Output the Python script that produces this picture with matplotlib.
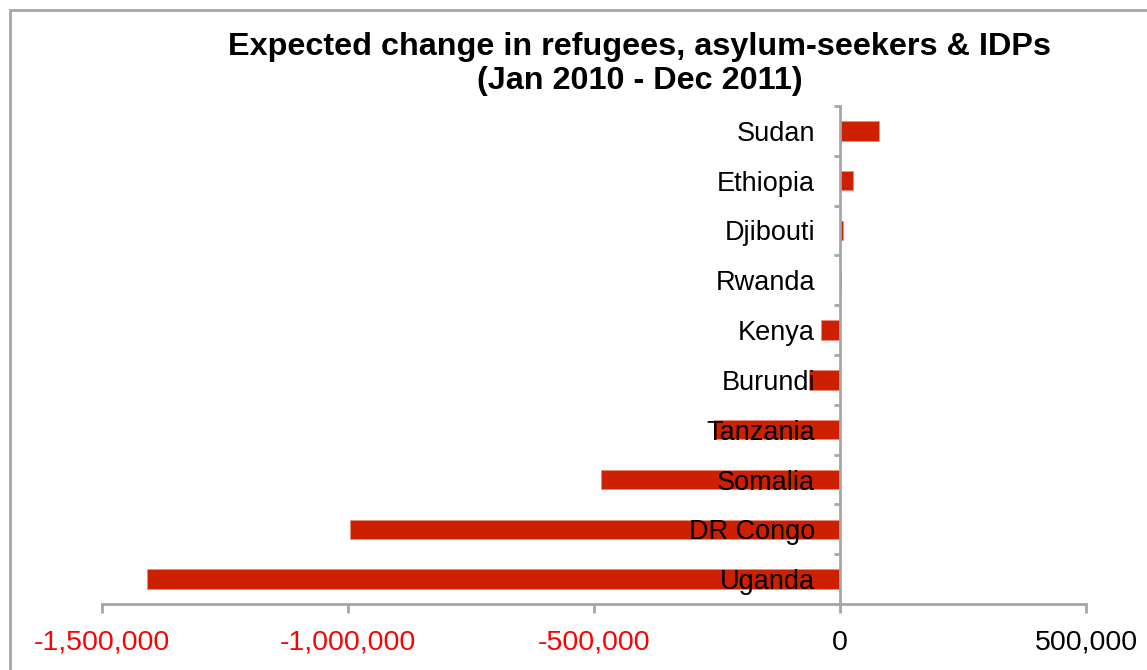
import matplotlib
matplotlib.use('Agg')
import matplotlib.pyplot as plt
from matplotlib.patches import Rectangle
from matplotlib.ticker import FixedLocator, FuncFormatter

countries = ['Uganda', 'DR Congo', 'Somalia', 'Tanzania', 'Burundi',
             'Kenya', 'Rwanda', 'Djibouti', 'Ethiopia', 'Sudan']
change = [-1409000, -996000, -486000, -257000, -63000,
          -39000, 2500, 6000, 27000, 79000]
xticks = [-1500000, -1000000, -500000, 0, 500000]

plt.rcParams['font.family'] = ['Liberation Sans', 'DejaVu Sans']
plt.rcParams['axes.unicode_minus'] = False

grey = '#a6a6a6'
bar_red = '#cc2000'

fig = plt.figure(figsize=(11.47, 6.70), dpi=100)
ax = fig.add_axes([102 / 1147, 66 / 670, 984 / 1147, 498 / 670])

ypos = list(range(len(countries)))
ax.barh(ypos, change, height=0.39, color=bar_red, edgecolor='#e8907c', linewidth=0.6, zorder=1)

ax.set_xlim(-1500000, 500000)
ax.set_ylim(-0.5, len(countries) - 0.5)

for side in ['top', 'right']:
    ax.spines[side].set_visible(False)
ax.spines['left'].set_position(('data', 0))
for side in ['left', 'bottom']:
    ax.spines[side].set_color(grey)
    ax.spines[side].set_linewidth(2)

# x axis: thousands separators, negatives in red
ax.xaxis.set_major_locator(FixedLocator(xticks))
ax.xaxis.set_major_formatter(FuncFormatter(lambda v, p: '{:,.0f}'.format(v)))
ax.tick_params(axis='x', direction='out', length=6.5, width=2, color=grey,
               labelsize=20.5, pad=12)
for lab, v in zip(ax.get_xticklabels(), xticks):
    lab.set_color('#ff0000' if v < 0 else 'black')

# y axis: names at bar centres, tick marks on category boundaries
ax.set_yticks(ypos)
ax.set_yticklabels(countries)
ax.set_yticks([i - 0.5 for i in range(len(countries) + 1)], minor=True)
ax.tick_params(axis='y', which='major', length=0, labelsize=19.5, pad=18)
ax.tick_params(axis='y', which='minor', direction='out', length=4.5, width=2, color=grey)

fig.text(640 / 1147, 1 - 64 / 670,
         'Expected change in refugees, asylum-seekers & IDPs\n(Jan 2010 - Dec 2011)',
         ha='center', va='center', fontsize=23.3, fontweight='bold', linespacing=1.2)

# chart frame
fig.patches.append(Rectangle((10 / 1147, -0.1), 1.2, 1.1 - 10 / 670,
                             transform=fig.transFigure, fill=False,
                             edgecolor=grey, linewidth=2))

fig.savefig('out.png', dpi=100)
